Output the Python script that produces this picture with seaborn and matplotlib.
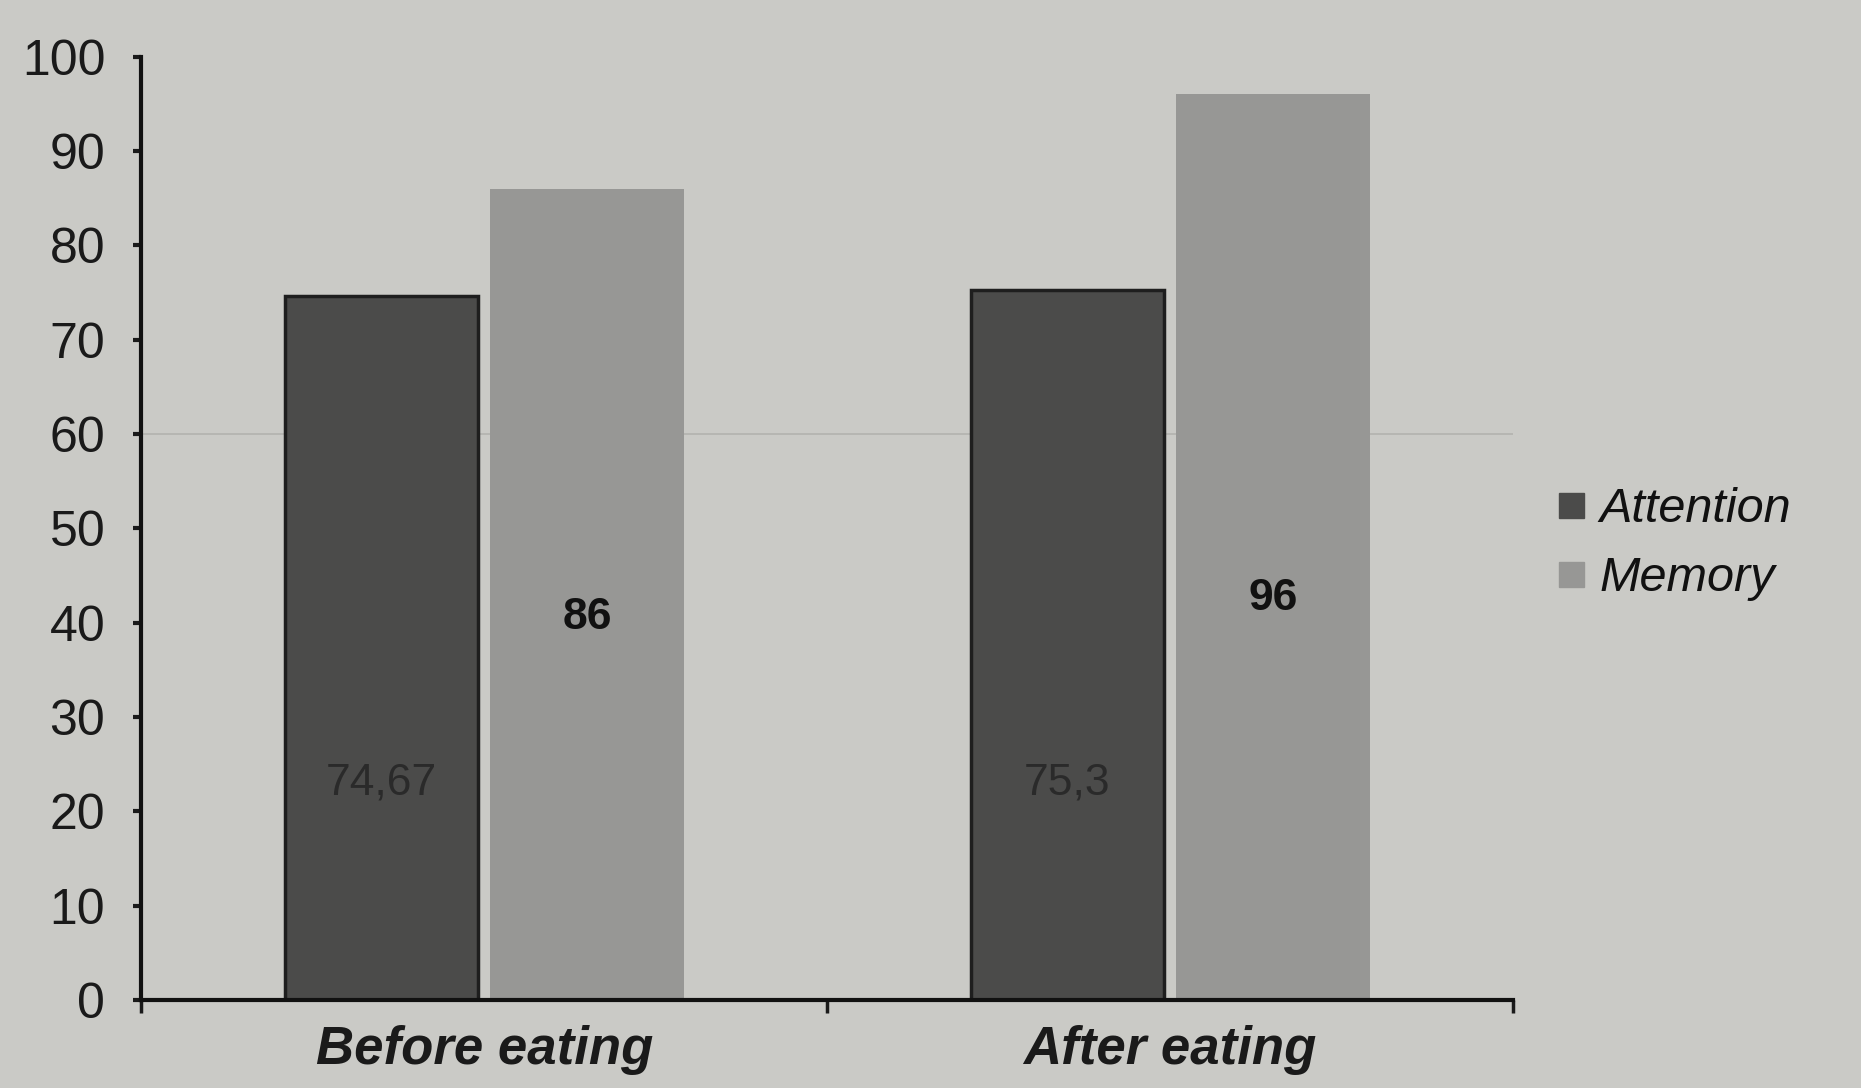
import matplotlib
matplotlib.use("Agg")
import matplotlib.pyplot as plt
from matplotlib.lines import Line2D
import seaborn as sns
import pandas as pd

# Test scores before and after a meal
stages = ["Before eating", "After eating"]
measures = ["Attention", "Memory"]
attention = [74.67, 75.3]
memory = [86, 96]
value_labels_attention = ["74,67", "75,3"]
value_labels_memory = ["86", "96"]
y_ticks = list(range(0, 101, 10))

df = pd.DataFrame({
    "stage": stages * 2,
    "measure": [measures[0]] * 2 + [measures[1]] * 2,
    "score": attention + memory,
})

sns.set_theme(style="white")
plt.rcParams["font.family"] = ["Liberation Sans", "DejaVu Sans"]

bg = "#cacac6"
fig = plt.figure(figsize=(18.61, 10.88), dpi=100, facecolor=bg)
ax = fig.add_axes([0.076, 0.081, 0.737, 0.867], facecolor=bg)

palette = {"Attention": "#4b4b4a", "Memory": "#979795"}
sns.barplot(data=df, x="stage", y="score", hue="measure", order=stages,
            hue_order=measures, palette=palette, width=0.6, gap=0.06,
            saturation=1, linewidth=0, ax=ax, legend=False)

# outline the attention bars like the printed version
for bar in ax.patches[:2]:
    bar.set_edgecolor("#1e1e1e")
    bar.set_linewidth(2.5)

ax.set_ylim(0, 100)
ax.set_xlim(-0.5, 1.5)
ax.set_yticks(y_ticks)
ax.set_yticklabels([str(t) for t in y_ticks], fontsize=36, color="#1a1a1a")
ax.set_xticks([0, 1])
ax.set_xticklabels(stages, fontsize=38, fontweight="bold", fontstyle="italic",
                   color="#1a1a1a")
ax.set_xticks([-0.5, 0.5, 1.5], minor=True)
ax.tick_params(axis="x", which="major", bottom=True, length=0, pad=18)
ax.tick_params(axis="x", which="minor", bottom=True, length=9, width=2.5,
               direction="out", color="#1a1a1a")
ax.tick_params(axis="y", left=True, length=6, width=3, direction="out",
               color="#1a1a1a", pad=20)
ax.set_xlabel("")
ax.set_ylabel("")

for s in ["top", "right"]:
    ax.spines[s].set_visible(False)
for s in ["left", "bottom"]:
    ax.spines[s].set_linewidth(3)
    ax.spines[s].set_color("#111111")

# faint horizontal guide
ax.axhline(60, color="#b2b2ae", linewidth=1.2, zorder=0)

# value labels inside bars
att_bars = ax.containers[0]
mem_bars = ax.containers[1]
for bar, lab in zip(att_bars, value_labels_attention):
    ax.text(bar.get_x() + bar.get_width() / 2, 23, lab, ha="center",
            va="center", fontsize=32, color="#2a2a2a")
for bar, lab in zip(mem_bars, value_labels_memory):
    ax.text(bar.get_x() + bar.get_width() / 2, 40.5 if lab == "86" else 42.5,
            lab, ha="center", va="center", fontsize=32, fontweight="bold",
            color="#111111")

handles = [Line2D([0], [0], marker="s", linestyle="none", markersize=18,
                  markerfacecolor=palette[m], markeredgecolor=palette[m])
           for m in measures]
leg = fig.legend(handles, measures, loc="center left",
                 bbox_to_anchor=(0.81, 0.5), frameon=False,
                 prop={"size": 35, "style": "italic"}, handletextpad=0.2,
                 labelspacing=0.5, handlelength=0.8)
for t in leg.get_texts():
    t.set_color("#111111")

fig.savefig("out.png", dpi=100, facecolor=bg)
